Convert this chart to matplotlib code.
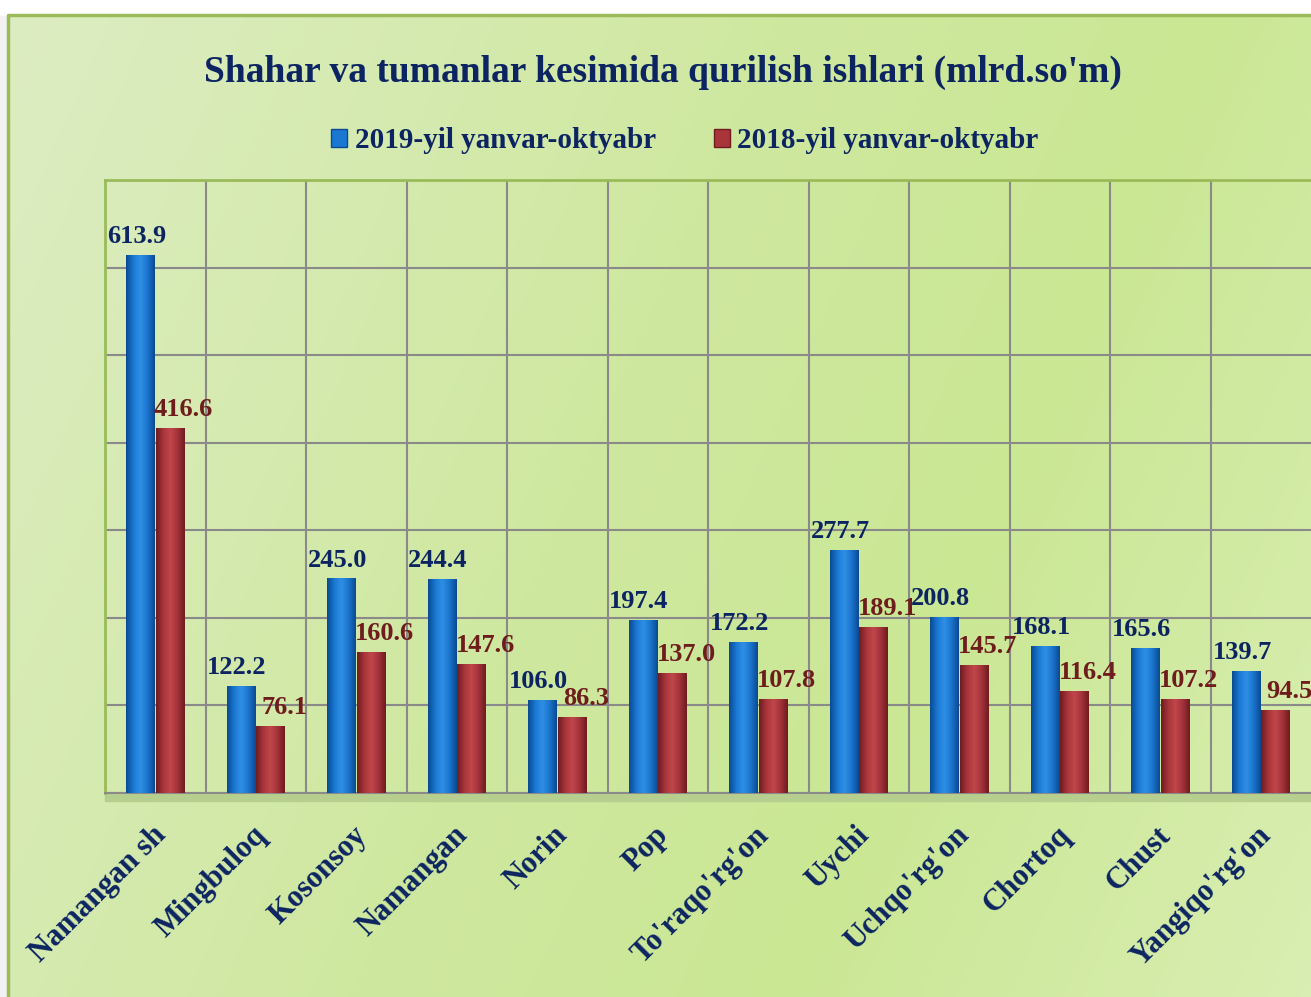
import numpy as np
import matplotlib.pyplot as plt
from matplotlib.patches import Patch, Rectangle
from matplotlib.colors import LinearSegmentedColormap

plt.rcParams['font.family'] = ['Liberation Serif', 'DejaVu Serif']
plt.rcParams['font.weight'] = 'bold'

categories = ["Namangan sh", "Mingbuloq", "Kosonsoy", "Namangan", "Norin", "Pop",
              "To'raqo'rg'on", "Uychi", "Uchqo'rg'on", "Chortoq", "Chust", "Yangiqo'rg'on"]
vals_2019 = [613.9, 122.2, 245.0, 244.4, 106.0, 197.4, 172.2, 277.7, 200.8, 168.1, 165.6, 139.7]
vals_2018 = [416.6, 76.1, 160.6, 147.6, 86.3, 137.0, 107.8, 189.1, 145.7, 116.4, 107.2, 94.5]
series_names = ["2019-yil yanvar-oktyabr", "2018-yil yanvar-oktyabr"]

navy = '#0c2461'
maroon = '#6e1c1c'
blue_cmap = LinearSegmentedColormap.from_list('b', ['#0b4a93', '#1a78d2', '#2f8fe6', '#1a74cc', '#0b4a93'])
red_cmap = LinearSegmentedColormap.from_list('r', ['#6e1c20', '#a8353a', '#c0474b', '#a3323a', '#6e1c20'])

W, H = 1311, 997
fig = plt.figure(figsize=(W / 100, H / 100), dpi=100)

# background gradient (light at the sides, greener in the middle)
bg = fig.add_axes([0, 0, 1, 1], zorder=-10)
gx, gy = np.meshgrid(np.linspace(0, 1, 300), np.linspace(0, 1, 300))
grad = 0.75 * gx + 0.25 * gy
bg_cmap = LinearSegmentedColormap.from_list(
    'g', [(0, '#ddedc3'), (0.45, '#cfe8a0'), (0.7, '#cae794'), (1, '#d9eeb2')])
bg.imshow(grad, cmap=bg_cmap, aspect='auto', extent=[0, 1, 0, 1], origin='upper')
bg.set_xlim(0, 1)
bg.set_ylim(0, 1)
bg.axis('off')
# white margins and chart border
bg.add_patch(Rectangle((0, 0), 8 / W, 1, color='#f2f2f2', zorder=2))
bg.add_patch(Rectangle((0, 1 - 15 / H), 1, 15 / H, color='white', zorder=2))
bg.plot([8 / W, 8 / W, 1], [0, 1 - 15 / H, 1 - 15 / H], color='#9bbb59', lw=2.5, zorder=3)
# floor band under the plot
bg.add_patch(Rectangle((105 / W, 1 - 801 / H), 1 - 105 / W, 8 / H, color='#b7cf8e', zorder=1))

ax = fig.add_axes([105 / W, 1 - 793 / H, 1 - 105 / W, (793 - 180) / H])
ax.patch.set_alpha(0)

x = np.arange(len(categories))
w = 0.285
b1 = ax.bar(x - 0.145, vals_2019, w, color='#1a78d2', zorder=3)
b2 = ax.bar(x + 0.145, vals_2018, w, color='#a8353a', zorder=3)

# cylinder-like shading inside each bar
shade = np.linspace(0, 1, 64).reshape(1, -1)
for bars, cmap in ((b1, blue_cmap), (b2, red_cmap)):
    for b in bars:
        x0, y0 = b.get_x(), b.get_y()
        im = ax.imshow(shade, cmap=cmap, aspect='auto', zorder=4,
                       extent=[x0, x0 + b.get_width(), y0, y0 + b.get_height()])
        im.set_clip_path(b)

for b, v in zip(b1, vals_2019):
    ax.annotate(f'{v:.1f}', (b.get_x() + b.get_width() / 2, v), xytext=(-3, 5),
                textcoords='offset points', ha='center', va='bottom',
                fontsize=19, color=navy, fontweight='bold', zorder=6)
for b, v in zip(b2, vals_2018):
    ax.annotate(f'{v:.1f}', (b.get_x() + b.get_width() / 2, v), xytext=(10, 5),
                textcoords='offset points', ha='center', va='bottom',
                fontsize=19, color=maroon, fontweight='bold', zorder=6)

ax.set_xlim(-0.5, len(categories) - 0.5)
ax.set_ylim(0, 700)
ax.set_yticks(np.arange(0, 701, 100))
ax.set_yticklabels([])
ax.set_xticks(np.arange(len(categories) - 1) + 0.5, minor=True)
ax.grid(True, axis='y', color='#8a8a8a', lw=1.5, zorder=1)
ax.grid(True, axis='x', which='minor', color='#8a8a8a', lw=1.5, zorder=1)
ax.tick_params(axis='both', which='both', length=0)
ax.tick_params(axis='y', pad=0)
ax.set_xticks(x - 0.04)
ax.set_xticklabels(categories, rotation=45, ha='right', rotation_mode='anchor',
                   fontsize=22, color=navy, fontweight='bold')
ax.tick_params(axis='x', pad=20)
for s in ['top', 'left']:
    ax.spines[s].set_color('#9bbb59')
    ax.spines[s].set_linewidth(2)
ax.spines['right'].set_visible(False)
ax.spines['bottom'].set_color('#8a8a8a')
ax.spines['bottom'].set_linewidth(1.5)

fig.text(0.506, 1 - 72 / H, "Shahar va tumanlar kesimida qurilish ishlari (mlrd.so'm)",
         ha='center', va='center', fontsize=27, color=navy, fontweight='bold')

handles = [Patch(facecolor='#1a78d2', edgecolor='#0b4a93'),
           Patch(facecolor='#a8353a', edgecolor='#6e1c20')]
leg = fig.legend(handles, series_names, loc='center', bbox_to_anchor=(0.5225, 1 - 141 / H),
                 ncol=2, frameon=False, fontsize=21, handlelength=0.55, handleheight=0.55,
                 handletextpad=0.25, columnspacing=2.0)
for t in leg.get_texts():
    t.set_color(navy)
    t.set_fontweight('bold')

fig.savefig('out.png', dpi=100)
